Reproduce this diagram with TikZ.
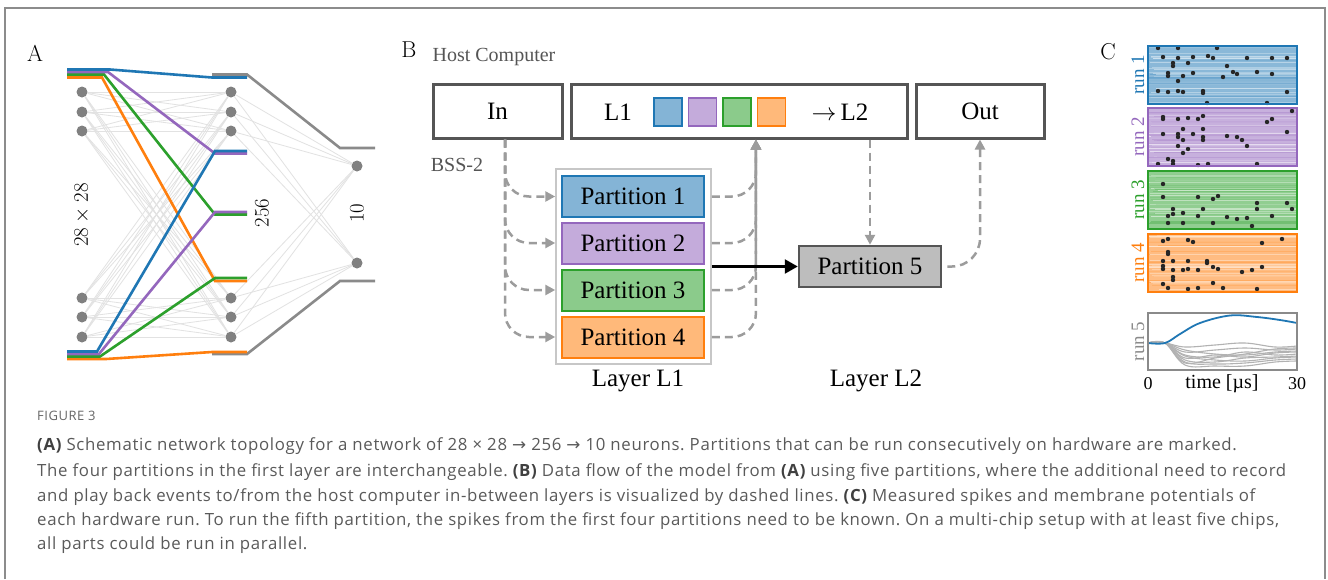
\documentclass[tikz,border=0pt]{standalone}
\usepackage{fontspec}
\usetikzlibrary{arrows.meta,calc}
\newfontfamily\tms{Liberation Serif}
\newfontfamily\capsans[LetterSpace=4]{Open Sans}
\newfontfamily\symfont{DejaVu Sans}
\definecolor{cblue}{HTML}{1F77B4}
\definecolor{cpurple}{HTML}{9467BD}
\definecolor{cgreen}{HTML}{2CA02C}
\definecolor{corange}{HTML}{FF7F0E}
\definecolor{nodegray}{HTML}{808080}
\definecolor{syngray}{HTML}{E2E2E2}
\definecolor{bargray}{HTML}{8A8A8A}
\definecolor{boxgray}{HTML}{555555}
\definecolor{dashgray}{HTML}{9C9C9C}
\definecolor{capgray}{HTML}{5A5A5A}
\definecolor{framegray}{HTML}{8C8C8C}
\frenchspacing
\begin{document}
\begin{tikzpicture}[x=1pt,y=-1pt,
  neuron/.style={circle,fill=nodegray,inner sep=0pt,minimum size=11pt},
  syn/.style={syngray,line width=0.8pt},
  bundle/.style={line width=2.6pt},
  bar/.style={bargray,line width=2.6pt},
  hostbox/.style={draw=boxgray,line width=3pt,fill=white,minimum height=54pt,inner sep=0pt},
  part/.style={line width=2pt,minimum width=142pt,minimum height=41pt,inner sep=0pt,
    font=\tms\fontsize{25}{30}\selectfont},
  chip/.style={line width=1.5pt,minimum size=28pt,inner sep=0pt},
  dasharr/.style={dashgray,line width=2.5pt,dash pattern=on 8pt off 5pt,
    -{Triangle[length=10pt,width=10pt]}},
  lbl/.style={font=\tms\fontsize{25}{30}\selectfont},
  panel/.style={font=\fontsize{23}{28}\selectfont},
  runlbl/.style={rotate=90,font=\tms\fontsize{19}{22}\selectfont},
  capline/.style={anchor=base west,inner sep=0pt,text=capgray,font=\capsans\fontsize{16.8}{20}\selectfont},
]
\useasboundingbox (0,0) rectangle (1328,579);
\fill[white] (0,0) rectangle (1328,579);

% outer frame, open at the bottom
\draw[framegray,line width=1.5pt] (5,579) -- (5,8) -- (1325,8) -- (1325,579);

% ---------------- panel A: network topology ----------------
\node[panel] (labA) at (35,53) {A};
\foreach \y [count=\i] in {92,112,131,298,317,337} {
  \node[neuron] (a\i) at (82,\y) {};
  \node[neuron] (b\i) at (231,\y) {};
}
\node[neuron] (c1) at (357,166) {};
\node[neuron] (c2) at (357,263) {};
\foreach \i in {1,...,6} {
  \foreach \j in {1,...,6} \draw[syn] (a\i) -- (b\j);
  \foreach \j in {1,2} \draw[syn] (b\i) -- (c\j);
}
\node[rotate=90,font=\fontsize{22}{26}\selectfont] (inlbl) at (82,215) {$28\times28$};
\node[rotate=90,font=\fontsize{22}{26}\selectfont] (hidlbl) at (262,213) {$256$};
\node[rotate=90,font=\fontsize{22}{26}\selectfont] (outlbl) at (357,213) {$10$};

% brackets around the output layer
\draw[bar] (212,74.5) -- (247,74.5) -- (340,148) -- (375,148);
\draw[bar] (212,354) -- (247,354) -- (340,281) -- (375,281);

% partition bundles (drawn bottom colour first so the stacks read blue/purple/green/orange)
\draw[bundle,corange] (67,77.5) -- (102,77.5) -- (215,281) -- (247,281);
\draw[bundle,corange] (67,359) -- (106,359) -- (212,352) -- (247,352);
\draw[bundle,cgreen] (67,74.5) -- (104,74.5) -- (215,214.5) -- (247,214.5);
\draw[bundle,cgreen] (67,356.5) -- (100,356.5) -- (215,278) -- (247,278);
\draw[bundle,cpurple] (67,72) -- (108,72) -- (215,153.5) -- (247,153.5);
\draw[bundle,cpurple] (67,354) -- (99,354) -- (215,212) -- (247,212);
\draw[bundle,cblue] (67,69.5) -- (110,69.5) -- (212,77.5) -- (247,77.5);
\draw[bundle,cblue] (67,351.5) -- (97,351.5) -- (215,151) -- (247,151);

% ---------------- panel B: data flow ----------------
\node[panel] (labB) at (409,50) {B};
\node[font=\tms\fontsize{20}{24}\selectfont,text=boxgray] (host) at (494,57) {Host Computer};
\node[font=\tms\fontsize{20}{24}\selectfont,text=boxgray] (bss) at (457,165) {BSS-2};

\node[hostbox,minimum width=129pt,lbl] (in) at (497.5,111) {In};
\node[hostbox,minimum width=336pt] (l1) at (739,111) {};
\node[hostbox,minimum width=128pt,lbl] (out) at (980,111) {Out};
\node[lbl] (l1txt) at (618,112) {L1};
\node[chip,draw=cblue,fill=cblue!55!white] (sq1) at (668,112) {};
\node[chip,draw=cpurple,fill=cpurple!55!white] (sq2) at (702.5,112) {};
\node[chip,draw=cgreen,fill=cgreen!55!white] (sq3) at (737,112) {};
\node[chip,draw=corange,fill=corange!55!white] (sq4) at (771.5,112) {};
\node[lbl] (tol2) at (840,112) {$\rightarrow$\,L2};

\node[draw=black!22,line width=1.5pt,minimum width=155pt,minimum height=195pt,inner sep=0pt] (layer) at (633.5,266.5) {};
\node[part,draw=cblue,fill=cblue!55!white] (p1) at (633,196.5) {Partition 1};
\node[part,draw=cpurple,fill=cpurple!55!white] (p2) at (633,243) {Partition 2};
\node[part,draw=cgreen,fill=cgreen!55!white] (p3) at (633,290) {Partition 3};
\node[part,draw=corange,fill=corange!55!white] (p4) at (633,337) {Partition 4};
\node[part,draw=boxgray,line width=2.5pt,fill=black!26] (p5) at (870,266.5) {Partition 5};
\node[lbl] (lay1) at (638,381) {Layer L1};
\node[lbl] (lay2) at (876,381) {Layer L2};

\coordinate (inport) at ([xshift=7.5pt]in.south);
\coordinate (l1port) at ($(l1.south west)!0.55!(l1.south east)$);
\foreach \p in {p1,p2,p3,p4} {
  \draw[dasharr,rounded corners=24pt] (inport) |- (\p.west -| layer.west);
  \draw[dasharr,rounded corners=24pt] (\p.east -| layer.east) -| (l1port);
}
\draw[dasharr] (l1.south -| p5.north) -- (p5.north);
\draw[dasharr,rounded corners=28pt] ([xshift=5pt]p5.east) -| (out.south);
\draw[line width=2.5pt,-{Triangle[length=13pt,width=14pt]}] (layer.east |- p5.west) -- (p5.west);

% ---------------- panel C: measured activity ----------------
\node[panel] (labC) at (1108,52) {C};
\pgfmathsetseed{4217}
\foreach \k/\col/\top in {1/cblue/46,2/cpurple/108,3/cgreen/171,4/corange/234} {
  \fill[\col!52!white] (1148,\top) rectangle (1297,\top+58);
  \foreach \s in {1,...,40} {
    \pgfmathsetmacro\yy{\top+1.5+55*rnd}
    \pgfmathtruncatemacro\mix{22+46*rnd}
    \pgfmathsetmacro\xs{1148+14*rnd*rnd}
    \draw[\col!\mix!white,line width=1pt] (\xs,\yy) -- (1297,\yy);
  }
}
% recorded spikes
\foreach \x/\y in {
  1158/48,1178/48,1217/48,1163/57,1178/58,1193/57,1208/56,1213/58,1247/58,1272/58,1287/58,
  1173/63,1173/66,1188/63,1227/66,1233/72,1237/74,1257/72,1168/73,1168/76,1183/76,1193/73,
  1223/77,1272/74,1178/81,1158/91,1168/92,1178/91,1183/92,1203/91,1203/93,1287/92,1207/103,1267/103,
  1292/111,1163/117,1163/119,1178/119,1188/118,1198/119,1203/116,1267/122,1272/119,
  1183/129,1203/129,1287/132,1163/134,1178/134,1178/137,1183/140,1193/134,1203/137,1203/140,
  1227/136,1237/137,1242/140,1178/146,1188/149,1247/146,1183/153,1168/159,1173/161,1173/164,
  1158/164,1198/165,1208/164,1257/164,
  1163/184,1163/197,1198/197,1213/199,1218/196,1257/203,1287/203,1292/209,1257/209,1203/209,
  1173/209,1168/216,1173/214,1183/213,1198/216,1227/217,1237/219,1247/218,1252/226,1272/216,
  1168/223,1183/223,1213/223,
  1163/241,1168/239,1188/240,1193/242,1262/243,1282/239,1168/252,1168/254,1163/261,1173/261,
  1188/261,1207/261,1207/263,1213/267,1163/266,1173/270,1163/269,1183/270,1188/269,1198/270,
  1218/269,1242/272,1252/270,1262/267,1213/283,1173/277,1173/280,1163/284,1168/288,1188/289,
  1198/288,1223/288,1257/289}
  \fill[black!85] (\x,\y) circle (2.2pt);
\foreach \k/\col/\top in {1/cblue/46,2/cpurple/108,3/cgreen/171,4/corange/234} {
  \draw[\col,line width=2pt] (1148,\top) rectangle (1297,\top+58);
  \node[runlbl,text=\col] (run\k) at (1138,\top+29) {run \k};
}

% membrane traces of the last run
\begin{scope}
\clip (1148,313) rectangle (1297,370);
\foreach \a/\b/\c/\d in {347/345/343/347,352/350/348/350,355/357/352/355,358/355/357/353,
    360/362/358/357,362/364/363/360,365/366/366/362,356/360/361/358,350/354/355/352,363/358/354/349}
  \draw[black!30,line width=1.1pt] plot[smooth,tension=0.6] coordinates
    {(1148,343) (1165,343) (1185,\a) (1215,\b) (1245,\c) (1275,\d) (1297,\d-1)};
\draw[cblue,line width=1.8pt] plot[smooth,tension=0.6] coordinates
  {(1148,343) (1165,343) (1180,334) (1200,323) (1230,315.5) (1257,317) (1280,320) (1297,323)};
\end{scope}
\draw[bargray,line width=2pt] (1148,313) rectangle (1297,370);
\node[runlbl,text=bargray] (run5) at (1138,341.5) {run 5};
\node[font=\tms\fontsize{18}{22}\selectfont] (t0) at (1148,384) {0};
\node[font=\tms\fontsize{20}{24}\selectfont] (tlab) at (1222,384) {time [µs]};
\node[font=\tms\fontsize{18}{22}\selectfont] (t30) at (1297,384) {30};

% ---------------- caption ----------------
\node[capline,font=\capsans\fontsize{13}{16}\selectfont,text=black!60] (figno) at (37,420) {FIGURE 3};
\node[capline] (cap1) at (37,450) {{\bfseries\color{black!75}(A)} Schematic network topology for a network of 28 × 28 {\symfont→} 256 {\symfont→} 10 neurons. Partitions that can be run consecutively on hardware are marked.};
\node[capline] (cap2) at (37,476) {The four partitions in the first layer are interchangeable. {\bfseries\color{black!75}(B)} Data flow of the model from {\bfseries\color{black!75}(A)} using five partitions, where the additional need to record};
\node[capline] (cap3) at (37,501) {and play back events to/from the host computer in-between layers is visualized by dashed lines. {\bfseries\color{black!75}(C)} Measured spikes and membrane potentials of};
\node[capline] (cap4) at (37,525) {each hardware run. To run the fifth partition, the spikes from the first four partitions need to be known. On a multi-chip setup with at least five chips,};
\node[capline] (cap5) at (37,549) {all parts could be run in parallel.};
\end{tikzpicture}
\end{document}
